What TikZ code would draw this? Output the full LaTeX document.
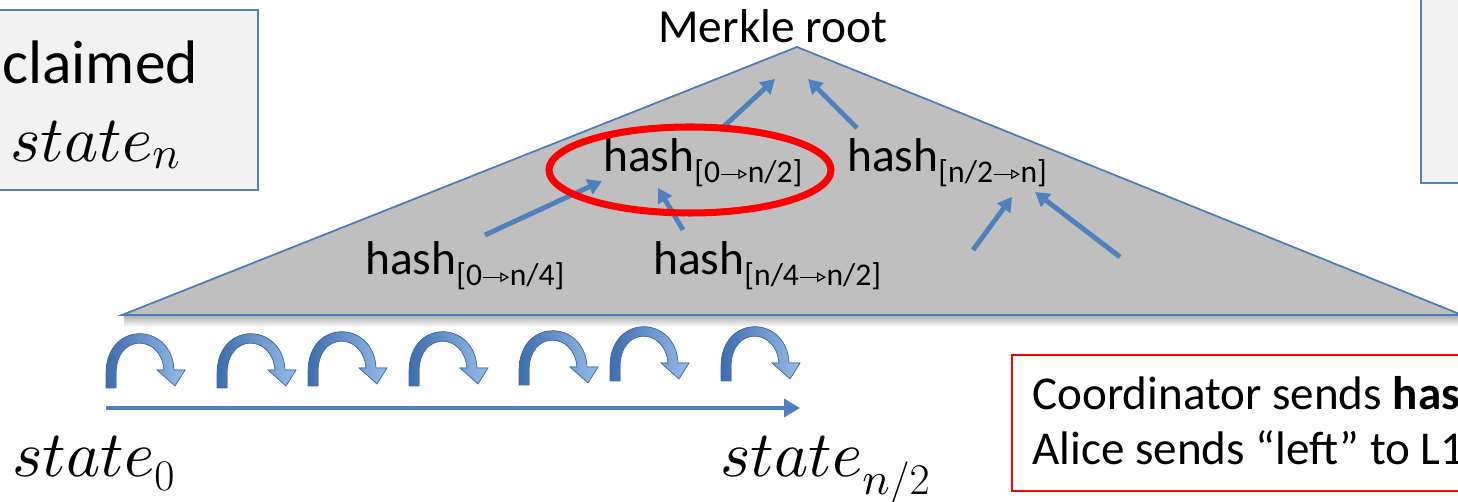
\documentclass[tikz,border=0pt]{standalone}
\usepackage{fontspec}
\setmainfont{Carlito}
\usepackage{tikz}
\usetikzlibrary{arrows.meta}

% scalable math italic for the large state labels
\DeclareFontShape{OML}{cmm}{m}{it}{<->cmmi10}{}

\definecolor{treegray}{HTML}{BFBFBF}
\definecolor{edgeblue}{HTML}{4A7EBB}
\definecolor{linkblue}{HTML}{4F81BD}
\definecolor{boxgray}{HTML}{F2F2F2}
\definecolor{hopdark}{HTML}{3E6DAE}
\definecolor{hoplight}{HTML}{95BBE8}

% open-headed arrow used inside the hash ranges
\newcommand{\harr}{\tikz[baseline=-0.55ex]\draw[black,line width=0.7pt,-{Triangle[open,length=5pt,width=5.5pt]}] (0pt,0pt) -- (15pt,0pt);}
\newcommand{\hsub}[1]{\raisebox{-6pt}{\fontsize{18}{18}\selectfont #1}}

\tikzset{
  hashlbl/.style={font=\fontsize{27}{30}\selectfont, inner sep=0pt, anchor=base west},
  statelbl/.style={font=\fontsize{37}{40}\selectfont, inner sep=0pt, anchor=base west},
  msglbl/.style={font=\fontsize{26.8}{32}\selectfont, inner sep=0pt, anchor=base west},
  link/.style={draw=linkblue, line width=2.8pt, -{Triangle[length=8pt,width=9pt]}},
  hilite/.style={draw=red, line width=4pt},
  hoparrow/.pic={
    \filldraw[draw=hopdark, line width=0.4pt, left color=hopdark, right color=hoplight]
      (0,0) -- (0,-14) .. controls (0,-68) and (66,-66) .. (68,-18)
      -- (79,-18) -- (69,-2) -- (51,-18) -- (58,-18)
      .. controls (55,-54) and (10,-55) .. (10,-14) -- (10,0) -- cycle;
  }
}

\begin{document}
\begin{tikzpicture}[x=0.02cm,y=-0.02cm]
\clip (0,0) rectangle (1458,502);

% Side boxes
\filldraw[fill=boxgray, draw=linkblue, line width=1.2pt] (-40,10) rectangle (258,190);
\filldraw[fill=boxgray, draw=linkblue, line width=1.2pt] (1421,-20) rectangle (1500,183);
\node[statelbl, font=\fontsize{35}{40}\selectfont] (claim) at (2,84) {claimed};
\node[statelbl] (stn) at (10,162) {$state_n$};

% Tree
\fill[top color=black!30, bottom color=white] (124,316) rectangle (1458,327);
\filldraw[fill=treegray, draw=edgeblue, line width=1pt] (122,315) -- (797,47) -- (1462,315) -- cycle;

\node[hashlbl] (root) at (658,43) {Merkle root};
\node[hashlbl] (h02) at (603,172) {hash\hsub{[0\harr n/2]}};
\node[hashlbl] (h2n) at (847,172) {hash\hsub{[n/2\harr n]}};
\node[hashlbl] (h04) at (365,275) {hash\hsub{[0\harr n/4]}};
\node[hashlbl] (h42) at (653,275) {hash\hsub{[n/4\harr n/2]}};

% Links up the tree
\coordinate (rl) at (775,79);  \coordinate (rr) at (808,79);
\coordinate (ll) at (602,181); \coordinate (lr) at (658,188);
\coordinate (nl) at (1012,197); \coordinate (nr) at (1035,192);
\coordinate (t1) at (720,130); \coordinate (t2) at (857,128);
\coordinate (t3) at (485,235); \coordinate (t4) at (683,230);
\coordinate (t5) at (973,250); \coordinate (t6) at (1120,257);
\draw[link] (t1) -- (rl);
\draw[link] (t2) -- (rr);
\draw[link] (t3) -- (ll);
\draw[link] (t4) -- (lr);
\draw[link] (t5) -- (nl);
\draw[link] (t6) -- (nr);

% Chosen half
\draw[hilite] (690,170) ellipse [x radius=141, y radius=43];

% Steps
\foreach \x/\y in {106/388,217/388,308/386,409/386,519/385,610/381,721/381}
  \pic at (\x,\y) {hoparrow};

\coordinate (s0) at (106,408);
\coordinate (sh) at (800,408);
\draw[draw=linkblue, line width=2.8pt, -{Triangle[length=9pt,width=10pt]}] (s0) -- (sh);

\node[statelbl] (st0) at (12,477) {$state_0$};
\node[statelbl] (sthalf) at (720,477) {$state_{n/2}$};

% Message box
\draw[red, line width=1pt] (1012,355) rectangle (1500,491);
\node[msglbl] (coord) at (1032,410) {Coordinator sends \textbf{hash}};
\node[msglbl] (alice) at (1032,465) {Alice sends “left” to L1};
\end{tikzpicture}
\end{document}
